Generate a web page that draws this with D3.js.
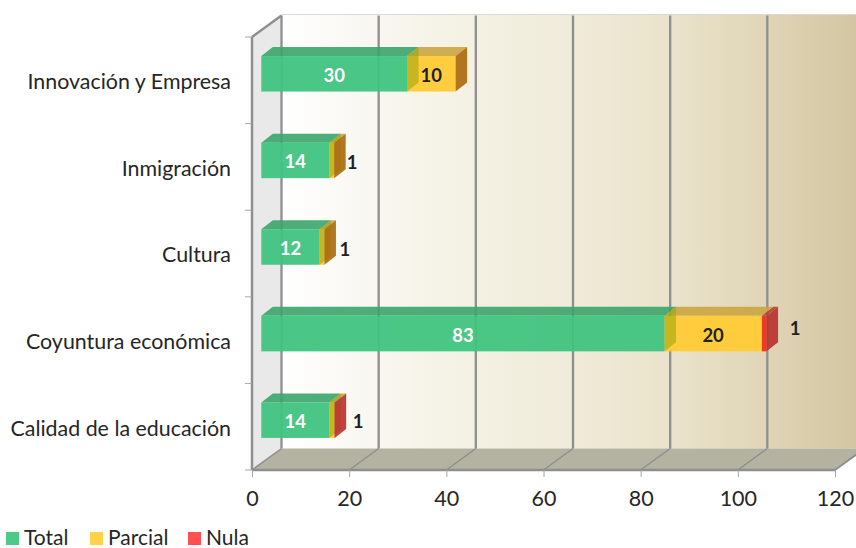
<!DOCTYPE html>
<html><head><meta charset="utf-8">
<script src="https://cdn.jsdelivr.net/npm/d3@7/dist/d3.min.js"></script>
<style>
html,body{margin:0;padding:0;background:#fff;overflow:hidden}
svg{display:block}
text{font-family:Lato,"Open Sans",sans-serif;fill:#262626}
</style></head><body>
<svg id="c" width="856" height="548"></svg>
<script>
const categories = ["Innovación y Empresa","Inmigración","Cultura","Coyuntura económica","Calidad de la educación"];
const seriesNames = ["Total","Parcial","Nula"];
const total   = [30,14,12,83,14];
const parcial = [10,1,1,20,1];
const nula    = [0,0,0,1,0.1];
const totalLabels   = ["30","14","12","83","14"];
const parcialLabels = ["10","","","20",""];
const outerLabels   = ["","1","1","1","1"];
const xTicks = [0,20,40,60,80,100,120];
const outerDx = [0,18,20.5,28.5,23.5];
const outerDy = [0,2,1.5,-5.5,1];

const svg = d3.select("#c");
const x = d3.scaleLinear().domain([0,120]).range([252,835]);
const y = d3.scaleBand().domain(categories).range([37,470]);
const depth = {dx:29.5, dy:-21.5}, barDepth = {dx:11.5, dy:-9}, barInset = {dx:9.3, dy:-6.5}, barH = 35.5;
const top0 = y.range()[0], bot = y.range()[1], x0 = x.range()[0], x1 = x.range()[1];
const line = "#8f8f8f";
const poly = pts => pts.map(p=>p.join(",")).join(" ");

const defs = svg.append("defs");
const g = defs.append("linearGradient").attr("id","wall").attr("x1",0).attr("x2",1).attr("y1",0).attr("y2",0);
[[0,"#ffffff"],[.17,"#f8f6ef"],[.33,"#f4f1e3"],[.5,"#f0ebd9"],[.67,"#eae3cb"],[.83,"#e0d5b7"],[1,"#d2c49f"]]
  .forEach(s=>g.append("stop").attr("offset",s[0]).attr("stop-color",s[1]));

// back wall
svg.append("rect").attr("x",x0+depth.dx).attr("y",top0+depth.dy-1).attr("width",x1-x0).attr("height",bot-top0+1).attr("fill","url(#wall)");
svg.append("line").attr("x1",x0+depth.dx).attr("x2",x1+depth.dx).attr("y1",top0+depth.dy-1).attr("y2",top0+depth.dy-1).attr("stroke","#d9d9d9").attr("stroke-width",1);
// side wall
svg.append("polygon").attr("points",poly([[x0,top0],[x0+depth.dx,top0+depth.dy],[x0+depth.dx,bot+depth.dy],[x0,bot]])).attr("fill","#e9e9e9");
// floor
svg.append("polygon").attr("points",poly([[x0,bot],[x0+depth.dx,bot+depth.dy],[x1+depth.dx,bot+depth.dy],[x1,bot]])).attr("fill","#b4b2a0");

// grid
const grid = svg.append("g").attr("stroke",line).attr("stroke-width",2.3).attr("fill","none");
xTicks.forEach(t=>{
  const px = x(t);
  if (t<120) grid.append("line").attr("x1",px+depth.dx).attr("x2",px+depth.dx).attr("y1",top0+depth.dy).attr("y2",bot+depth.dy);
  grid.append("line").attr("x1",px).attr("x2",px+depth.dx).attr("y1",bot).attr("y2",bot+depth.dy).attr("stroke-width",t===120?2:1.5);
});
grid.append("line").attr("x1",x0).attr("x2",x0).attr("y1",top0).attr("y2",bot).attr("stroke-width",2.5);
grid.append("line").attr("x1",x0).attr("x2",x0+depth.dx).attr("y1",top0).attr("y2",top0+depth.dy).attr("stroke-width",2.5);
grid.append("line").attr("x1",x0).attr("x2",x1).attr("y1",bot).attr("y2",bot).attr("stroke-width",2.5);

// axes
const xAxis = svg.append("g").attr("transform",`translate(0,${bot})`)
  .call(d3.axisBottom(x).tickValues(xTicks).tickSize(7).tickPadding(14).tickFormat(d3.format("d")));
xAxis.select(".domain").remove();
xAxis.selectAll("line").attr("stroke","#a6a6a6").attr("stroke-width",1);
xAxis.selectAll("text").style("font-size","21.5px").style("font-family","Lato").attr("fill","#262626");

const yAxis = svg.append("g").attr("transform",`translate(${x0},2)`)
  .call(d3.axisLeft(y).tickSize(0).tickPadding(21));
yAxis.select(".domain").remove();
yAxis.selectAll("text").style("font-size","21.4px").style("font-family","Lato").attr("fill","#262626");
svg.append("g").selectAll("line").data(d3.range(categories.length+1)).join("line")
  .attr("x1",x0-7).attr("x2",x0).attr("y1",i=>top0+i*y.step()).attr("y2",i=>top0+i*y.step())
  .attr("stroke","#a6a6a6").attr("stroke-width",1);

// bars
const style = [
  {front:"#40c37f",top:"#3aa56c",side:"#91a000",sideOp:.5,op:.95},
  {front:"#ffcb38",top:"#cba640",side:"#ab6b0e",sideOp:.92,op:.97},
  {front:"#f6321a",top:"#b8402e",side:"#b8302c",sideOp:.9,op:.97}
];
const barsG = svg.append("g");
categories.forEach((c,i)=>{
  const vals=[total[i],parcial[i],nula[i]];
  const by = y(c)+y.step()/2-barH/2+barInset.dy;
  const sc = v=>x(v)+barInset.dx;
  const segs=[]; let acc=0;
  vals.forEach((v,k)=>{ segs.push({k,a:acc,b:acc+v,v}); acc+=v; });
  const lastK = d3.max(segs.filter(s=>s.v>0),s=>s.k);
  const d=barDepth;
  const sideFace=s=>{
    const xb=sc(s.b), st=style[s.k];
    barsG.append("polygon").attr("points",poly([[xb,by],[xb+d.dx,by+d.dy],[xb+d.dx,by+d.dy+barH],[xb,by+barH]])).attr("fill",st.side).attr("fill-opacity",st.sideOp);
  };
  [2,1,0].forEach(k=>{
    const s=segs[k]; if(!(s.v>0)) return;
    const st=style[k], xa=sc(s.a), xb=sc(s.b);
    barsG.append("polygon").attr("points",poly([[xa,by],[xa+d.dx,by+d.dy],[xb+d.dx,by+d.dy],[xb,by]])).attr("fill",st.top).attr("fill-opacity",.9);
    barsG.append("rect").attr("x",xa).attr("y",by).attr("width",xb-xa).attr("height",barH).attr("fill",st.front).attr("fill-opacity",st.op);
  });
  sideFace(segs[0]);
  sideFace(segs[lastK]);
  const cy = by+barH/2;
  const lab=(txt,px,py,col)=>{ if(txt) svg.append("text").attr("x",px).attr("y",py).attr("text-anchor","middle").attr("dominant-baseline","central")
      .style("font-size","18.5px").style("font-weight","700").style("fill",col).text(txt); };
  lab(totalLabels[i],(sc(0)+sc(total[i]))/2,cy+1,"#ffffff");
  lab(parcialLabels[i],(sc(total[i])+sc(total[i]+parcial[i]))/2,cy+1,"#1f1f1f");
  lab(outerLabels[i],sc(acc)+outerDx[i],cy+outerDy[i],"#1f1f1f");
});

// legend
const legendColors=["#4dca87","#ffd24a","#ff5050"], legendX=[6,90,188];
const lg=svg.append("g");
seriesNames.forEach((n,i)=>{
  lg.append("rect").attr("x",legendX[i]).attr("y",532).attr("width",13).attr("height",13).attr("fill",legendColors[i]);
  lg.append("text").attr("x",legendX[i]+18).attr("y",545).style("font-size","21px").text(n);
});
</script>
</body></html>
